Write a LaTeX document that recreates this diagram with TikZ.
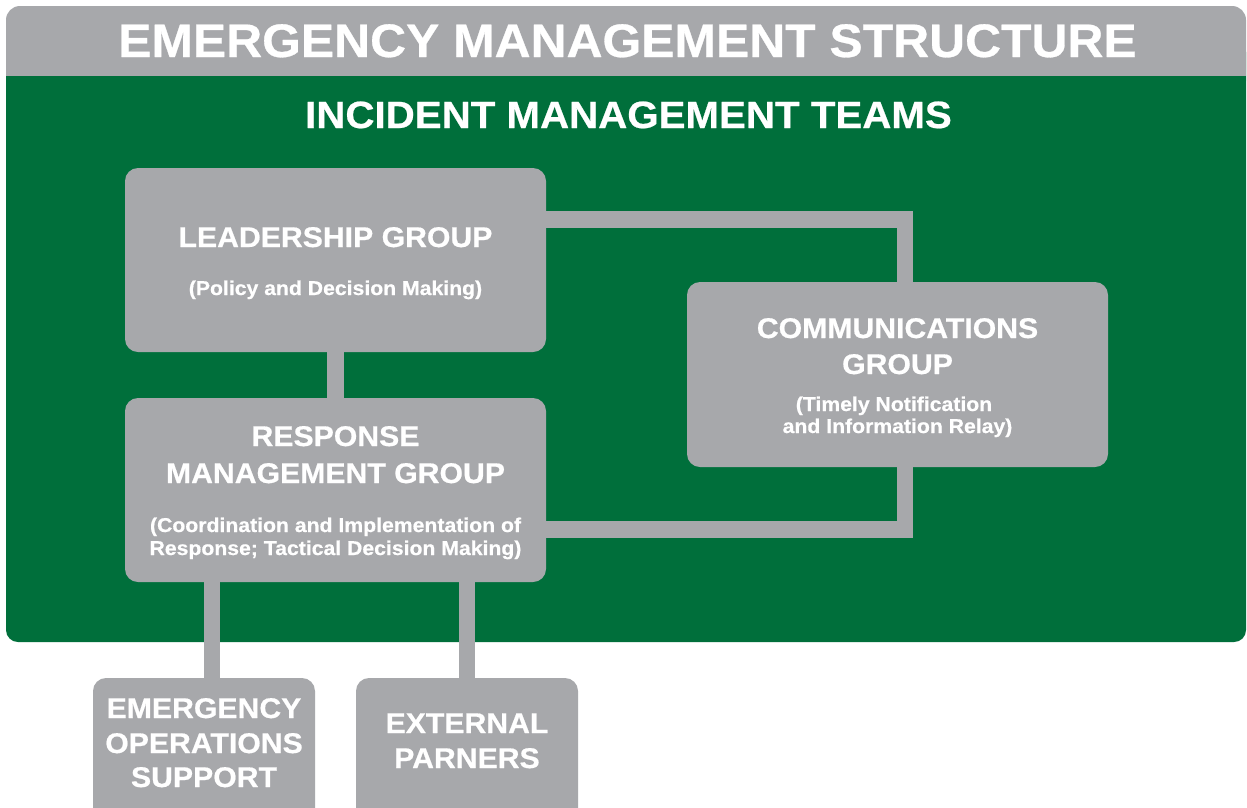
\documentclass[tikz,border=0pt]{standalone}
\usepackage{fontspec}
\setmainfont{Liberation Sans}[FakeStretch=1.06, BoldFeatures={FakeBold=0.6}]
\definecolor{panelgray}{HTML}{A7A8AB}
\definecolor{panelgreen}{HTML}{006F3B}
\pgfdeclarelayer{panel}
\pgfdeclarelayer{links}
\pgfsetlayers{panel,links,main}
\begin{document}
\begin{tikzpicture}[x=1pt,y=-1pt,
  box/.style={rectangle, fill=panelgray, rounded corners=13pt, inner sep=0pt,
    minimum width=421pt, minimum height=184pt},
  smallbox/.style={rectangle, fill=panelgray, rounded corners=13pt, inner sep=0pt,
    minimum width=222pt, minimum height=160pt},
  conn/.style={draw=panelgray, line width=16.5pt},
  txt/.style={anchor=base, inner sep=0pt, text=white},
  bigtitle/.style={txt, font=\bfseries\fontsize{47}{56}\selectfont},
  subtitle/.style={txt, font=\bfseries\fontsize{38}{44}\selectfont},
  head/.style={txt, font=\bfseries\fontsize{28.5}{34}\selectfont},
  note/.style={txt, font=\bfseries\fontsize{20}{24}\selectfont}]

\clip (0,0) rectangle (1247,807);

% green panel with the grey title bar on top
\begin{pgfonlayer}{panel}
\fill[white] (0,0) rectangle (1247,807);
\fill[panelgreen, rounded corners=12pt] (6,40) rectangle (1246,642);
\fill[panelgray, rounded corners=14pt] (6,6) rectangle (1246,95);
\fill[panelgreen] (6,76) rectangle (1246,110);
\end{pgfonlayer}

\node[bigtitle] (ttl) at (627.5,57) {EMERGENCY MANAGEMENT STRUCTURE};
\node[subtitle] (imt) at (628.5,128) {INCIDENT MANAGEMENT TEAMS};

% boxes
\node[box] (lead) at (335.5,260) {};
\node[box] (resp) at (335.5,490) {};
\node[box, minimum height=185pt] (comm) at (897.5,374.5) {};
\node[smallbox] (eos) at (204,758) {};
\node[smallbox] (ext) at (467,758) {};

% connectors, drawn under the boxes
\begin{pgfonlayer}{links}
\coordinate (leadout) at ([yshift=40.5pt]lead.east);
\coordinate (commtop) at ([xshift=7.5pt]comm.north);
\coordinate (commbot) at ([xshift=7.5pt]comm.south);
\coordinate (respout) at ([yshift=-39.5pt]resp.east);
\coordinate (eosin) at ([xshift=8pt]eos.north);
\draw[conn] (lead.south) -- (resp.north);
\draw[conn] ([xshift=-5pt]leadout) -| (commtop);
\draw[conn] (commbot) |- ([xshift=-5pt]respout);
\draw[conn] (eosin) -- (eosin |- resp.south);
\draw[conn] (ext.north) -- (ext.north |- resp.south);
\end{pgfonlayer}

% labels
\node[head] (leadh) at (335.5,247) {LEADERSHIP GROUP};
\node[note] (leadn) at (335.5,295) {(Policy and Decision Making)};

\node[head] (resph1) at (335.5,446) {RESPONSE};
\node[head] (resph2) at (335.5,483) {MANAGEMENT GROUP};
\node[note] (respn1) at (335.5,532) {(Coordination and Implementation of};
\node[note] (respn2) at (335.5,555) {Response; Tactical Decision Making)};

\node[head] (commh1) at (897.5,338) {COMMUNICATIONS};
\node[head] (commh2) at (897.5,374) {GROUP};
\node[note] (commn1) at (894,411) {(Timely Notification};
\node[note] (commn2) at (897.5,433) {and Information Relay)};

\node[head] (eosh1) at (204,718) {EMERGENCY};
\node[head] (eosh2) at (204,753) {OPERATIONS};
\node[head] (eosh3) at (204,787) {SUPPORT};

\node[head] (exth1) at (467,733) {EXTERNAL};
\node[head] (exth2) at (467,768) {PARNERS};
\end{tikzpicture}
\end{document}
